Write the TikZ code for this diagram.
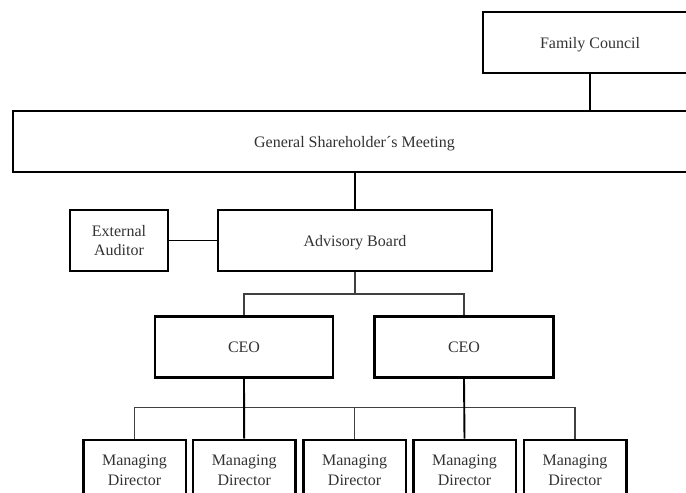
\documentclass[tikz,border=0pt]{standalone}
\usepackage{fontspec}
\setmainfont{Liberation Serif}
\begin{document}
\begin{tikzpicture}[x=1pt,y=-1pt,
  orgbox/.style={draw=black, line width=2.5pt, fill=white, inner sep=0pt,
    align=center, text=black!80, minimum height=61pt,
    font=\fontsize{16}{19.5}\selectfont},
  oneline/.style={orgbox, text height=13pt, text depth=1.5pt},
  mainlink/.style={draw=black, line width=1.9pt},
  buslink/.style={draw=black!75, line width=1.1pt}]
\useasboundingbox (0,0) rectangle (686,493);
\clip (0,0) rectangle (686,493);

% governance level
\node[oneline, minimum width=214pt] (fc)  at (590,42.6)   {Family Council};
\node[oneline, minimum width=683pt] (gsm) at (354.5,141.5) {General Shareholder´s Meeting};
\node[oneline, minimum width=274pt] (ab)  at (355,240.5)  {Advisory Board};
\node[orgbox, minimum width=98pt]   (ea)  at (119,240.5)  {External\\Auditor};

% executive level
\node[oneline, minimum width=178pt] (ceo1) at (244,347) {CEO};
\node[oneline, minimum width=179pt] (ceo2) at (464,347) {CEO};

% managing directors
\foreach \i/\x in {1/134.5, 2/244.2, 3/354.6, 4/464.5, 5/575}
  \node[orgbox, minimum width=102.5pt] (md\i) at (\x,470.3) {Managing\\Director};

% vertical spine
\draw[mainlink] (fc.south) -- (fc.south |- gsm.north);
\draw[mainlink] (gsm.south -| ab.north) -- (ab.north);
\draw[mainlink] (ea.east) -- (ab.west);

% split from the board to both CEOs
\coordinate (split) at (355,294);
\draw[buslink] (ab.south) -- (split);
\draw[buslink] (ceo1.north) |- (split) -| (ceo2.north);

% bus feeding the managing directors
\coordinate (busL) at (134.5,407.3);
\coordinate (busR) at (575,407.3);
\draw[buslink] (md1.north) -- (busL) -- (busR) -- (md5.north);
\draw[buslink] (md3.north) -- (md3.north |- busL);
\draw[mainlink] (ceo1.south) -- (md2.north);
\draw[mainlink] (ceo2.south) -- (md4.north);
\end{tikzpicture}
\end{document}
